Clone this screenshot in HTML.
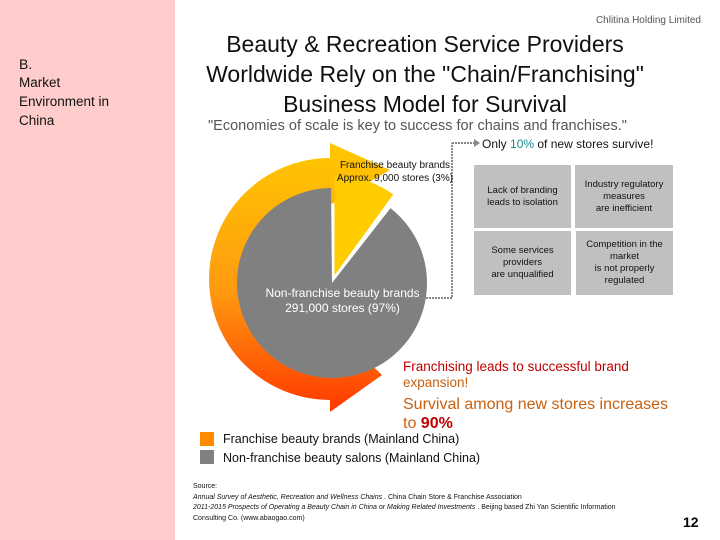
<!DOCTYPE html>
<html><head><meta charset="utf-8"><style>
body{margin:0;width:720px;height:540px;overflow:hidden;background:#fff;font-family:"Liberation Sans",sans-serif;position:relative}
.a{position:absolute}
.box{position:absolute;background:#c0c0c0;font-size:9.5px;color:#111;display:flex;align-items:center;justify-content:center;text-align:center;line-height:12px}
</style></head><body>
<div class="a" style="left:0;top:0;width:175px;height:540px;background:#ffcccc"></div>
<div class="a" style="left:19px;top:55px;font-size:14px;line-height:18px;color:#111">B.<br><span style="font-size:13.5px">Market<br>Environment in<br>China</span></div>
<div class="a" style="right:19px;top:15px;font-size:10px;color:#555">Chlitina Holding Limited</div>
<div class="a" style="left:180px;width:490px;top:29px;text-align:center;font-size:23px;line-height:30px;color:#111">Beauty &amp; Recreation Service Providers Worldwide Rely on the "Chain/Franchising" Business Model for Survival</div>
<div class="a" style="left:208px;top:118px;font-size:14.5px;color:#555;white-space:nowrap">"Economies of scale is key to success for chains and franchises."</div>
<div class="a" style="left:482px;top:137px;font-size:12px;color:#111">Only <span style="color:#1a8a8a">10%</span> of new stores survive!</div>
<svg class="a" style="left:0;top:0" width="720" height="540">
<defs><linearGradient id="g" x1="0" y1="0" x2="0" y2="1"><stop offset="0" stop-color="#ffc800"/><stop offset="0.55" stop-color="#ff9a10"/><stop offset="1" stop-color="#ff3800"/></linearGradient></defs>
<path fill="url(#g)" d="M330,158 L330,143 L390,170 L330,205 L330,190 A85,85 0 0 0 330,360 L330,325 L382,375 L330,412 L330,400 A121,121 0 0 1 330,158 Z"/>
<g id="pie"></g>
<polyline points="405,298 452,298 452,143" fill="none" stroke="#888" stroke-width="2" stroke-dasharray="2,1"/>
<line x1="452" y1="143" x2="476" y2="143" stroke="#888" stroke-width="2" stroke-dasharray="2,1"/>
<path d="M474,139 L480,143 L474,147Z" fill="#888"/>
</svg>
<div class="a" style="left:330px;top:159px;font-size:10px;line-height:13px;color:#111;text-align:center;width:130px">Franchise beauty brands<br>Approx. 9,000 stores (3%)</div>
<div class="a" style="left:250px;top:286px;width:185px;text-align:center;font-size:12px;line-height:15px;color:#fff">Non-franchise beauty brands<br>291,000 stores (97%)</div>
<div class="box" style="left:474px;top:165px;width:97px;height:63px">Lack of branding<br>leads to isolation</div>
<div class="box" style="left:575px;top:165px;width:98px;height:63px">Industry regulatory<br>measures<br>are inefficient</div>
<div class="box" style="left:474px;top:231px;width:97px;height:64px">Some services<br>providers<br>are unqualified</div>
<div class="box" style="left:576px;top:231px;width:97px;height:64px">Competition in the<br>market<br>is not properly<br>regulated</div>
<div class="a" style="left:403px;top:359px;font-size:13.5px;line-height:16px;color:#c00000">Franchising leads to successful brand<br><span style="color:#c86010">expansion!</span></div>
<div class="a" style="left:403px;top:395px;font-size:16px;line-height:19px;color:#c86010;white-space:nowrap">Survival among new stores increases<br>to <b style="color:#c00000">90%</b></div>
<div class="a" style="left:200px;top:432px;width:14px;height:14px;background:#ff8c00"></div>
<div class="a" style="left:200px;top:450px;width:14px;height:14px;background:#808080"></div>
<div class="a" style="left:223px;top:430px;font-size:12.5px;line-height:19px;color:#111">Franchise beauty brands (Mainland China)<br>Non-franchise beauty salons (Mainland China)</div>
<div class="a" style="left:193px;top:482px;font-size:7px;line-height:10.5px;color:#111">Source:<br><i>Annual Survey of Aesthetic, Recreation and Wellness Chains</i> . China Chain Store &amp; Franchise Association<br><i>2011-2015 Prospects of Operating a Beauty Chain in China or Making Related Investments</i> . Beijing based Zhi Yan Scientific Information<br>Consulting Co. (www.abaogao.com)</div>
<div class="a" style="left:683px;top:514px;font-size:14px;font-weight:bold">12</div>
<script>
const categories=["Franchise beauty brands","Non-franchise beauty brands"];
const sliceShares=[10,90];
const colors=["#ffcc00","#808080"];
const g=document.getElementById('pie');
const total=sliceShares.reduce((a,b)=>a+b,0);
let start=0;
sliceShares.forEach((v,i)=>{
  const a0=start/total*2*Math.PI, a1=(start+v)/total*2*Math.PI; start+=v;
  const mid=(a0+a1)/2, off=i===0?8:0, r=i===0?100:95;
  const cx=332+off*Math.sin(mid), cy=283-off*Math.cos(mid);
  const gap=i===0?0:0.035;
  const b0=a0+gap, b1=a1-(i===0?0:0.01);
  const x0=cx+r*Math.sin(b0), y0=cy-r*Math.cos(b0), x1=cx+r*Math.sin(b1), y1=cy-r*Math.cos(b1);
  const large=(b1-b0)>Math.PI?1:0;
  const p=document.createElementNS('http://www.w3.org/2000/svg','path');
  p.setAttribute('d',`M${cx},${cy} L${x0},${y0} A${r},${r} 0 ${large} 1 ${x1},${y1} Z`);
  p.setAttribute('fill',colors[i]);
  
  
  g.appendChild(p);
});
</script>
</body></html>
